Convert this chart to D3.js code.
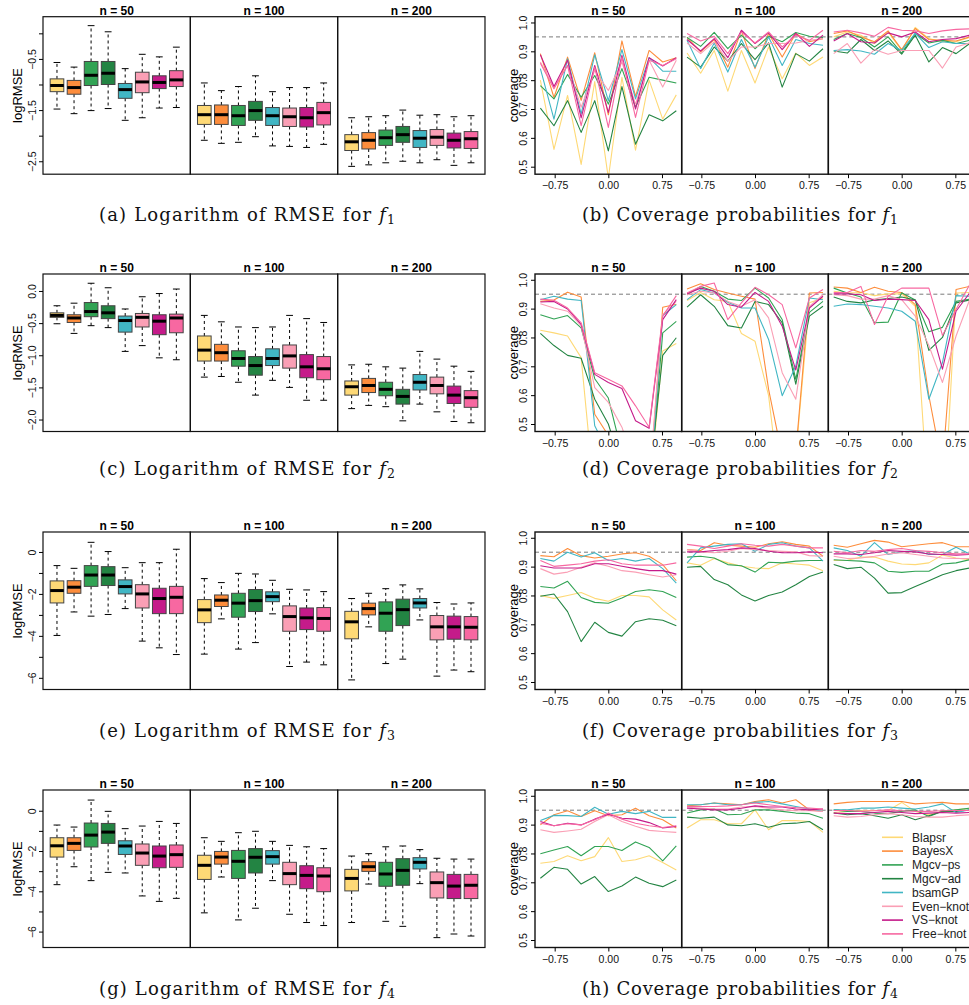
<!DOCTYPE html>
<html>
<head>
<meta charset="utf-8">
<script src="https://cdn.jsdelivr.net/npm/d3@7"></script>
<style>
  body { margin: 0; background: #fff; }
  svg { display: block; }
</style>
</head>
<body>
<svg id="fig" width="969" height="1005"></svg>
<script>
// ---- methods, sample sizes and axis ticks ----
const methods = ["Blapsr", "BayesX", "Mgcv\u2212ps", "Mgcv\u2212ad", "bsamGP", "Even\u2212knot", "VS\u2212knot", "Free\u2212knot"];
const methodColors = ["#FED976", "#FD8D3C", "#31A354", "#238443", "#41B6C4", "#FA9FB5", "#C51B8A", "#F768A1"];
const sampleSizes = ["n = 50", "n = 100", "n = 200"];
const gridX = [-0.95, -0.76, -0.57, -0.38, -0.19, 0.00, 0.19, 0.38, 0.57, 0.76, 0.95];
const covTicksX = [-0.75, 0, 0.75];
const covTicksY = [0.5, 0.6, 0.7, 0.8, 0.9, 1.0];
const nominalLevel = 0.95;
const rmseTicks = [
  [0, -0.5, -1, -1.5, -2, -2.5],
  [0, -0.5, -1, -1.5, -2],
  [0, -1, -2, -3, -4, -5, -6],
  [0, -1, -2, -3, -4, -5, -6]
];
const rmseTickLabels = [
  [-0.5, -1.5, -2.5],
  [0, -0.5, -1, -1.5, -2],
  [0, -2, -4, -6],
  [0, -2, -4, -6]
];
const captionLetters = [["a", "b"], ["c", "d"], ["e", "f"], ["g", "h"]];

// ---- log RMSE box summaries: [lower whisker, Q1, median, Q3, upper whisker] per method, per n ----
const rmseF1 = [
  [[-1.48,-1.14,-1.02,-0.89,-0.57],[-1.57,-1.19,-1.06,-0.92,-0.66],[-1.51,-1.02,-0.82,-0.55,0.15],[-1.47,-1.00,-0.78,-0.55,0.03],
   [-1.70,-1.27,-1.10,-0.98,-0.69],[-1.65,-1.16,-0.95,-0.76,-0.41],[-1.46,-1.08,-0.96,-0.83,-0.46],[-1.45,-1.04,-0.91,-0.73,-0.27]],
  [[-2.09,-1.78,-1.59,-1.41,-0.97],[-2.15,-1.78,-1.59,-1.40,-1.12],[-2.13,-1.80,-1.61,-1.41,-1.04],[-2.02,-1.70,-1.51,-1.33,-0.83],
   [-2.20,-1.80,-1.61,-1.45,-1.14],[-2.21,-1.82,-1.63,-1.46,-1.06],[-2.23,-1.83,-1.65,-1.45,-1.06],[-2.17,-1.79,-1.55,-1.35,-0.97]],
  [[-2.60,-2.29,-2.12,-1.98,-1.65],[-2.57,-2.26,-2.09,-1.94,-1.63],[-2.53,-2.19,-2.04,-1.89,-1.61],[-2.50,-2.13,-1.98,-1.82,-1.50],
   [-2.53,-2.23,-2.05,-1.90,-1.60],[-2.47,-2.19,-2.03,-1.88,-1.59],[-2.58,-2.24,-2.09,-1.95,-1.63],[-2.53,-2.25,-2.06,-1.92,-1.61]]
];
const rmseF2 = [
  [[-0.51,-0.41,-0.38,-0.34,-0.23],[-0.66,-0.49,-0.42,-0.37,-0.19],[-0.54,-0.40,-0.32,-0.18,0.12],[-0.57,-0.43,-0.34,-0.23,0.05],
   [-0.94,-0.64,-0.46,-0.39,-0.28],[-0.85,-0.56,-0.41,-0.35,-0.09],[-1.04,-0.68,-0.47,-0.37,-0.04],[-1.07,-0.65,-0.42,-0.36,0.03]],
  [[-1.34,-1.09,-0.92,-0.70,-0.38],[-1.33,-1.09,-0.96,-0.83,-0.48],[-1.42,-1.17,-1.05,-0.93,-0.56],[-1.62,-1.31,-1.16,-1.02,-0.57],
   [-1.39,-1.16,-1.05,-0.90,-0.56],[-1.50,-1.20,-1.01,-0.84,-0.38],[-1.70,-1.35,-1.18,-0.99,-0.43],[-1.70,-1.38,-1.21,-1.02,-0.49]],
  [[-1.83,-1.62,-1.49,-1.40,-1.15],[-1.78,-1.58,-1.47,-1.36,-1.14],[-1.80,-1.63,-1.53,-1.42,-1.18],[-2.02,-1.76,-1.64,-1.53,-1.20],
   [-1.76,-1.54,-1.42,-1.30,-0.94],[-1.88,-1.60,-1.47,-1.34,-1.06],[-2.03,-1.75,-1.62,-1.48,-1.17],[-2.05,-1.81,-1.66,-1.55,-1.25]]
];
const rmseF3 = [
  [[-3.98,-2.43,-1.84,-1.38,-0.65],[-2.86,-1.97,-1.68,-1.37,-0.78],[-3.06,-1.64,-1.10,-0.65,0.46],[-2.98,-1.60,-1.10,-0.70,0.02],
   [-2.70,-2.00,-1.65,-1.33,-0.75],[-4.25,-2.67,-2.00,-1.56,-0.51],[-4.57,-2.94,-2.22,-1.73,-0.51],[-4.89,-2.94,-2.16,-1.64,0.13]],
  [[-4.87,-3.37,-2.76,-2.27,-1.27],[-3.19,-2.60,-2.30,-2.05,-1.46],[-4.63,-3.11,-2.44,-1.97,-1.02],[-4.32,-2.84,-2.32,-1.79,-1.05],
   [-2.95,-2.37,-2.13,-1.90,-1.35],[-5.46,-3.78,-3.08,-2.57,-1.78],[-5.25,-3.70,-3.14,-2.67,-1.81],[-5.38,-3.78,-3.17,-2.65,-1.89]],
  [[-6.10,-4.14,-3.33,-2.83,-2.22],[-3.57,-3.00,-2.70,-2.44,-1.97],[-5.32,-3.78,-2.92,-2.38,-1.75],[-5.11,-3.51,-2.75,-2.25,-1.57],
   [-3.24,-2.67,-2.43,-2.22,-1.76],[-5.92,-4.19,-3.57,-3.03,-2.41],[-5.63,-4.16,-3.57,-3.06,-2.48],[-5.71,-4.19,-3.59,-3.08,-2.43]]
];
const rmseF4 = [
  [[-3.67,-2.30,-1.74,-1.34,-0.71],[-2.78,-1.97,-1.62,-1.34,-0.81],[-3.47,-1.80,-1.21,-0.61,0.53],[-3.06,-1.62,-1.06,-0.63,-0.03],
   [-3.09,-2.17,-1.75,-1.49,-0.89],[-4.23,-2.71,-2.10,-1.65,-0.76],[-4.50,-2.83,-2.25,-1.75,-0.53],[-4.35,-2.81,-2.18,-1.70,-0.63]],
  [[-5.07,-3.41,-2.71,-2.21,-1.34],[-3.29,-2.65,-2.30,-2.02,-1.52],[-5.42,-3.36,-2.51,-1.97,-1.09],[-4.84,-3.09,-2.31,-1.88,-1.02],
   [-3.47,-2.65,-2.28,-1.98,-1.52],[-5.14,-3.67,-3.12,-2.56,-1.72],[-5.55,-3.87,-3.21,-2.73,-1.79],[-5.70,-4.02,-3.24,-2.83,-1.88]],
  [[-5.55,-3.98,-3.36,-2.91,-2.25],[-3.64,-3.01,-2.78,-2.53,-2.13],[-5.49,-3.75,-3.14,-2.56,-1.79],[-5.74,-3.70,-2.96,-2.38,-1.75],
   [-3.62,-2.89,-2.56,-2.33,-1.93],[-6.30,-4.33,-3.57,-3.04,-2.36],[-6.12,-4.36,-3.74,-3.16,-2.40],[-6.22,-4.36,-3.70,-3.16,-2.40]]
];

// ---- pointwise coverage at gridX, per method, per n ----
const covF1 = [
  [[0.800,0.560,0.747,0.508,0.795,0.460,0.810,0.557,0.800,0.665,0.749],
   [0.892,0.740,0.880,0.730,0.895,0.680,0.936,0.744,0.903,0.863,0.878],
   [0.781,0.735,0.820,0.741,0.816,0.717,0.840,0.706,0.810,0.800,0.790],
   [0.703,0.642,0.729,0.619,0.729,0.555,0.778,0.578,0.680,0.659,0.694],
   [0.840,0.665,0.874,0.683,0.888,0.729,0.906,0.735,0.878,0.831,0.831],
   [0.863,0.776,0.851,0.706,0.834,0.764,0.863,0.717,0.869,0.776,0.869],
   [0.888,0.778,0.869,0.669,0.851,0.688,0.886,0.700,0.878,0.849,0.878],
   [0.859,0.770,0.851,0.642,0.845,0.636,0.880,0.671,0.869,0.851,0.874]],
  [[0.894,0.824,0.903,0.762,0.903,0.790,0.915,0.805,0.894,0.851,0.880],
   [0.948,0.898,0.941,0.845,0.971,0.840,0.962,0.880,0.962,0.933,0.944],
   [0.948,0.917,0.966,0.909,0.956,0.909,0.952,0.933,0.965,0.952,0.948],
   [0.880,0.845,0.915,0.866,0.927,0.871,0.929,0.776,0.892,0.866,0.909],
   [0.938,0.840,0.929,0.828,0.941,0.845,0.950,0.851,0.941,0.927,0.921],
   [0.929,0.892,0.933,0.866,0.915,0.915,0.927,0.927,0.929,0.938,0.944],
   [0.941,0.901,0.944,0.878,0.973,0.927,0.964,0.906,0.962,0.917,0.956],
   [0.962,0.936,0.952,0.892,0.967,0.929,0.967,0.915,0.956,0.938,0.973]],
  [[0.950,0.967,0.956,0.927,0.967,0.903,0.983,0.944,0.933,0.933,0.948],
   [0.962,0.971,0.950,0.933,0.971,0.906,0.979,0.941,0.938,0.936,0.950],
   [0.941,0.962,0.948,0.915,0.950,0.894,0.962,0.929,0.938,0.927,0.938],
   [0.901,0.894,0.941,0.903,0.936,0.890,0.956,0.863,0.913,0.892,0.927],
   [0.903,0.906,0.901,0.890,0.927,0.903,0.962,0.913,0.933,0.927,0.927],
   [0.892,0.927,0.859,0.906,0.890,0.903,0.903,0.903,0.842,0.915,0.929],
   [0.936,0.962,0.933,0.929,0.964,0.950,0.967,0.933,0.941,0.944,0.956],
   [0.967,0.973,0.964,0.952,0.983,0.973,0.971,0.962,0.971,0.976,0.978]]
];
const covF2 = [
  [[0.825,0.816,0.805,0.730,0.240,0.200,0.200,0.200,0.250,0.753,0.779],
   [0.925,0.930,0.957,0.940,0.534,0.460,0.300,0.250,0.260,0.905,0.915],
   [0.879,0.864,0.876,0.833,0.657,0.590,0.400,0.300,0.250,0.816,0.856],
   [0.814,0.772,0.738,0.728,0.586,0.500,0.350,0.300,0.300,0.738,0.799],
   [0.931,0.943,0.933,0.928,0.494,0.400,0.300,0.250,0.250,0.876,0.914],
   [0.917,0.902,0.891,0.841,0.626,0.575,0.489,0.350,0.300,0.879,0.925],
   [0.923,0.925,0.899,0.845,0.672,0.644,0.623,0.511,0.485,0.862,0.931],
   [0.933,0.929,0.902,0.851,0.678,0.655,0.632,0.563,0.489,0.874,0.945]],
  [[0.928,0.956,0.931,0.925,0.814,0.787,0.598,0.200,0.390,0.920,0.937],
   [0.968,0.986,0.966,0.954,0.943,0.933,0.620,0.390,0.400,0.954,0.956],
   [0.948,0.977,0.960,0.933,0.928,0.971,0.937,0.862,0.655,0.887,0.925],
   [0.905,0.948,0.908,0.841,0.833,0.925,0.914,0.851,0.638,0.874,0.908],
   [0.931,0.966,0.954,0.922,0.902,0.902,0.793,0.598,0.701,0.937,0.931],
   [0.948,0.960,0.954,0.925,0.908,0.931,0.868,0.678,0.586,0.908,0.948],
   [0.952,0.971,0.960,0.914,0.905,0.956,0.925,0.839,0.687,0.902,0.943],
   [0.954,0.977,0.989,0.862,0.920,0.974,0.948,0.914,0.764,0.937,0.966]],
  [[0.960,0.954,0.956,0.945,0.951,0.951,0.908,0.200,0.100,0.954,0.956],
   [0.975,0.971,0.956,0.974,0.960,0.956,0.914,0.598,0.350,0.966,0.977],
   [0.971,0.954,0.940,0.851,0.853,0.955,0.930,0.820,0.835,0.925,0.933],
   [0.940,0.925,0.920,0.930,0.935,0.940,0.930,0.755,0.800,0.920,0.930],
   [0.908,0.916,0.914,0.908,0.902,0.891,0.856,0.586,0.713,0.945,0.943],
   [0.948,0.945,0.933,0.933,0.945,0.931,0.874,0.772,0.644,0.805,0.931],
   [0.951,0.951,0.948,0.928,0.933,0.931,0.928,0.862,0.690,0.891,0.954],
   [0.956,0.956,0.977,0.845,0.943,0.971,0.971,0.971,0.807,0.897,0.983]]
];
const covF3 = [
  [[0.800,0.790,0.800,0.810,0.790,0.780,0.800,0.800,0.795,0.750,0.715],
   [0.938,0.934,0.963,0.938,0.930,0.936,0.944,0.948,0.936,0.907,0.851],
   [0.831,0.826,0.849,0.793,0.776,0.773,0.791,0.814,0.820,0.814,0.793],
   [0.797,0.805,0.744,0.640,0.707,0.672,0.659,0.709,0.719,0.714,0.695],
   [0.928,0.919,0.950,0.933,0.948,0.921,0.928,0.919,0.928,0.893,0.843],
   [0.893,0.874,0.881,0.898,0.913,0.901,0.886,0.881,0.872,0.864,0.872],
   [0.903,0.895,0.895,0.895,0.910,0.910,0.901,0.893,0.886,0.886,0.874],
   [0.921,0.901,0.905,0.910,0.919,0.924,0.910,0.905,0.905,0.905,0.913]],
  [[0.913,0.905,0.928,0.913,0.901,0.895,0.893,0.913,0.909,0.905,0.886],
   [0.959,0.956,0.983,0.974,0.971,0.967,0.979,0.986,0.977,0.971,0.936],
   [0.933,0.936,0.930,0.907,0.903,0.881,0.915,0.913,0.919,0.921,0.921],
   [0.898,0.901,0.855,0.837,0.802,0.781,0.800,0.812,0.837,0.866,0.881],
   [0.913,0.965,0.971,0.977,0.979,0.953,0.977,0.983,0.971,0.965,0.919],
   [0.959,0.951,0.948,0.953,0.963,0.959,0.956,0.953,0.951,0.938,0.936],
   [0.951,0.951,0.956,0.959,0.965,0.963,0.953,0.948,0.948,0.951,0.948],
   [0.977,0.971,0.963,0.971,0.979,0.974,0.971,0.977,0.971,0.965,0.965]],
  [[0.921,0.922,0.933,0.933,0.919,0.909,0.907,0.913,0.940,0.930,0.924],
   [0.974,0.967,0.979,0.991,0.985,0.969,0.974,0.979,0.983,0.969,0.969],
   [0.924,0.921,0.919,0.913,0.884,0.880,0.884,0.884,0.909,0.913,0.924],
   [0.907,0.893,0.898,0.860,0.808,0.810,0.831,0.851,0.872,0.886,0.895],
   [0.965,0.956,0.936,0.983,0.942,0.951,0.956,0.942,0.942,0.967,0.944],
   [0.936,0.928,0.930,0.936,0.944,0.948,0.942,0.936,0.930,0.928,0.928],
   [0.944,0.944,0.942,0.948,0.956,0.953,0.951,0.944,0.942,0.940,0.942],
   [0.953,0.948,0.956,0.953,0.959,0.963,0.956,0.953,0.948,0.944,0.944]]
];
const covF4 = [
  [[0.766,0.772,0.792,0.775,0.789,0.855,0.772,0.778,0.792,0.769,0.743],
   [0.899,0.934,0.948,0.928,0.948,0.931,0.934,0.957,0.931,0.917,0.888],
   [0.799,0.812,0.824,0.792,0.824,0.824,0.810,0.840,0.821,0.774,0.826],
   [0.714,0.752,0.745,0.694,0.720,0.668,0.687,0.718,0.697,0.685,0.708],
   [0.914,0.932,0.931,0.928,0.960,0.936,0.946,0.938,0.946,0.925,0.925],
   [0.882,0.873,0.878,0.884,0.911,0.934,0.911,0.894,0.880,0.876,0.873],
   [0.911,0.896,0.905,0.899,0.919,0.936,0.922,0.919,0.907,0.888,0.894],
   [0.905,0.896,0.903,0.899,0.917,0.940,0.919,0.905,0.896,0.890,0.896]],
  [[0.888,0.917,0.917,0.903,0.903,0.951,0.882,0.914,0.914,0.911,0.873],
   [0.965,0.969,0.975,0.972,0.969,0.980,0.986,0.975,0.986,0.951,0.946],
   [0.940,0.951,0.954,0.934,0.936,0.951,0.951,0.946,0.940,0.938,0.922],
   [0.926,0.922,0.926,0.899,0.896,0.903,0.891,0.903,0.905,0.911,0.882],
   [0.969,0.969,0.975,0.969,0.969,0.977,0.980,0.972,0.963,0.954,0.946],
   [0.961,0.957,0.954,0.954,0.961,0.963,0.957,0.951,0.948,0.948,0.946],
   [0.957,0.954,0.951,0.951,0.957,0.965,0.961,0.961,0.954,0.951,0.954],
   [0.963,0.963,0.963,0.965,0.969,0.975,0.969,0.963,0.959,0.957,0.954]],
  [[0.942,0.946,0.949,0.949,0.949,0.977,0.946,0.934,0.946,0.951,0.957],
   [0.972,0.977,0.980,0.980,0.980,0.980,0.972,0.975,0.977,0.972,0.972],
   [0.951,0.946,0.946,0.940,0.938,0.946,0.951,0.928,0.946,0.951,0.957],
   [0.940,0.934,0.938,0.931,0.922,0.934,0.917,0.931,0.946,0.946,0.951],
   [0.951,0.951,0.957,0.957,0.961,0.957,0.954,0.961,0.972,0.942,0.951],
   [0.931,0.926,0.928,0.934,0.938,0.934,0.928,0.926,0.926,0.931,0.934],
   [0.940,0.938,0.938,0.942,0.946,0.942,0.938,0.940,0.942,0.940,0.942],
   [0.949,0.949,0.946,0.948,0.951,0.948,0.946,0.946,0.948,0.949,0.949]]
];

// ---- layout ----
const svg = d3.select("#fig");
const defs = svg.append("defs");
const SANS = "'Liberation Sans', Arial, sans-serif";
const SERIF = "'DejaVu Serif', serif";
const rowTop = [16.7, 274, 532, 790];
const plotH = 157.5;
const leftX = 43, leftFacetW = 147.33;
const rightX = 535, rightFacetW = 146.67;
const rmseDomain = [[-2.753, 0.325], [-2.186, 0.264], [-6.557, 0.952], [-6.79, 1.03]];
const covDomain = [0.474, 1.02];
const captionBase = [221, 475, 737, 995];
const rmseSets = [rmseF1, rmseF2, rmseF3, rmseF4];
const covSets = [covF1, covF2, covF3, covF4];
const frameColor = "#111";

function facetTitle(g, cx, top, text) {
  g.append("text").attr("x", cx).attr("y", top - 2)
    .attr("text-anchor", "middle").attr("font-family", SANS)
    .attr("font-weight", "bold").attr("font-size", 12).attr("fill", "#000")
    .text(text);
}

function rotateYLabels(ax, offset) {
  ax.select(".domain").remove();
  ax.selectAll(".tick line").attr("stroke", "#000");
  ax.selectAll(".tick text")
    .attr("transform", "rotate(-90)")
    .attr("x", 0).attr("y", -offset).attr("dy", 0)
    .attr("text-anchor", "middle")
    .attr("font-family", SANS).attr("font-size", 10.5).attr("fill", "#111");
}

// ---- left column: box plots of log RMSE ----
rmseSets.forEach((facets, r) => {
  const top = rowTop[r], bottom = top + plotH;
  const y = d3.scaleLinear().domain(rmseDomain[r]).range([bottom, top]);
  const g = svg.append("g");

  facets.forEach((stats, f) => {
    const x0 = leftX + f * leftFacetW;
    const x = d3.scaleLinear().domain([0.18, 8.82]).range([x0, x0 + leftFacetW]);
    const halfBox = x(1.4) - x(1);
    const halfCap = x(1.2) - x(1);
    const fg = g.append("g");

    stats.forEach((s, i) => {
      const cx = x(i + 1);
      const [lo, q1, med, q3, hi] = s;
      // whiskers
      fg.append("line").attr("x1", cx).attr("x2", cx).attr("y1", y(q3)).attr("y2", y(hi))
        .attr("stroke", "#000").attr("stroke-width", 1).attr("stroke-dasharray", "3,3");
      fg.append("line").attr("x1", cx).attr("x2", cx).attr("y1", y(q1)).attr("y2", y(lo))
        .attr("stroke", "#000").attr("stroke-width", 1).attr("stroke-dasharray", "3,3");
      // staples
      [lo, hi].forEach(v => {
        fg.append("line").attr("x1", cx - halfCap).attr("x2", cx + halfCap)
          .attr("y1", y(v)).attr("y2", y(v)).attr("stroke", "#000").attr("stroke-width", 1);
      });
      // box
      fg.append("rect").attr("x", cx - halfBox).attr("y", y(q3))
        .attr("width", 2 * halfBox).attr("height", y(q1) - y(q3))
        .attr("fill", methodColors[i]).attr("stroke", "#444").attr("stroke-width", 1);
      // median
      fg.append("line").attr("x1", cx - halfBox).attr("x2", cx + halfBox)
        .attr("y1", y(med)).attr("y2", y(med)).attr("stroke", "#000").attr("stroke-width", 3);
    });

    fg.append("rect").attr("x", x0).attr("y", top).attr("width", leftFacetW).attr("height", plotH)
      .attr("fill", "none").attr("stroke", frameColor).attr("stroke-width", 1.2);
    facetTitle(fg, x0 + leftFacetW / 2, top, sampleSizes[f]);
  });

  const labelled = rmseTickLabels[r];
  const fmt = r < 2 ? d3.format(".1f") : d3.format("d");
  const ax = g.append("g").attr("transform", `translate(${leftX},0)`)
    .call(d3.axisLeft(y).tickValues(rmseTicks[r]).tickSize(4).tickSizeOuter(0)
      .tickFormat(d => labelled.some(v => Math.abs(v - d) < 1e-9) ? fmt(d) : ""));
  rotateYLabels(ax, 7);

  g.append("text").attr("transform", `translate(22,${top + plotH / 2}) rotate(-90)`)
    .attr("text-anchor", "middle").attr("font-family", SANS).attr("font-size", 13)
    .attr("fill", "#000").text("logRMSE");
});

// ---- right column: coverage curves ----
covSets.forEach((facets, r) => {
  const top = rowTop[r], bottom = top + plotH;
  const y = d3.scaleLinear().domain(covDomain).range([bottom, top]);
  const g = svg.append("g");

  facets.forEach((series, f) => {
    const x0 = rightX + f * rightFacetW;
    const x = d3.scaleLinear().domain([-1.025, 1.025]).range([x0, x0 + rightFacetW]);
    const clipId = `clip-${r}-${f}`;
    defs.append("clipPath").attr("id", clipId).append("rect")
      .attr("x", x0).attr("y", top).attr("width", rightFacetW).attr("height", plotH);
    const fg = g.append("g");
    const inner = fg.append("g").attr("clip-path", `url(#${clipId})`);

    inner.append("line").attr("x1", x0).attr("x2", x0 + rightFacetW)
      .attr("y1", y(nominalLevel)).attr("y2", y(nominalLevel))
      .attr("stroke", "#7a7a7a").attr("stroke-width", 1).attr("stroke-dasharray", "4,3");

    const line = d3.line().x((d, k) => x(gridX[k])).y(d => y(d));
    series.forEach((vals, i) => {
      inner.append("path").attr("d", line(vals)).attr("fill", "none")
        .attr("stroke", methodColors[i]).attr("stroke-width", 1.1)
        .attr("stroke-linejoin", "round");
    });

    fg.append("rect").attr("x", x0).attr("y", top).attr("width", rightFacetW).attr("height", plotH)
      .attr("fill", "none").attr("stroke", frameColor).attr("stroke-width", 1.4);
    facetTitle(fg, x0 + rightFacetW / 2, top, sampleSizes[f]);

    const xa = fg.append("g").attr("transform", `translate(0,${bottom})`)
      .call(d3.axisBottom(x).tickValues(covTicksX).tickSize(4).tickSizeOuter(0)
        .tickFormat(d3.format(".2f")));
    xa.select(".domain").remove();
    xa.selectAll(".tick line").attr("stroke", "#000");
    xa.selectAll(".tick text").attr("y", 15).attr("dy", 0)
      .attr("font-family", SANS).attr("font-size", 10.5).attr("fill", "#111");
  });

  const ax = g.append("g").attr("transform", `translate(${rightX},0)`)
    .call(d3.axisLeft(y).tickValues(covTicksY).tickSize(4).tickSizeOuter(0)
      .tickFormat(d3.format(".1f")));
  rotateYLabels(ax, 8);

  g.append("text").attr("transform", `translate(518,${top + plotH / 2}) rotate(-90)`)
    .attr("text-anchor", "middle").attr("font-family", SANS).attr("font-size", 13)
    .attr("fill", "#000").text("coverage");
});

// ---- legend (bottom-right facet) ----
const legend = svg.append("g");
methods.forEach((m, i) => {
  const ly = 837.3 + i * 13.8;
  legend.append("line").attr("x1", 882).attr("x2", 903).attr("y1", ly).attr("y2", ly)
    .attr("stroke", methodColors[i]).attr("stroke-width", 1.6);
  legend.append("text").attr("x", 912).attr("y", ly + 4.3)
    .attr("font-family", SANS).attr("font-size", 12).attr("fill", "#222").text(m);
});

// ---- sub-figure captions ----
captionLetters.forEach((pair, r) => {
  [["Logarithm of RMSE for ", 247, 296], ["Coverage probabilities for ", 740, 316]].forEach(([txt, cx, len], c) => {
    const t = svg.append("text").attr("x", cx).attr("y", captionBase[r])
      .attr("text-anchor", "middle").attr("font-family", SERIF).attr("font-size", 18)
      .attr("textLength", len).attr("lengthAdjust", "spacing")
      .attr("fill", "#111");
    t.append("tspan").text(`(${pair[c]}) ${txt}`);
    t.append("tspan").attr("font-style", "italic").text("f");
    t.append("tspan").attr("font-size", 12.5).attr("dy", 3).text(String(r + 1));
  });
});
</script>
</body>
</html>
